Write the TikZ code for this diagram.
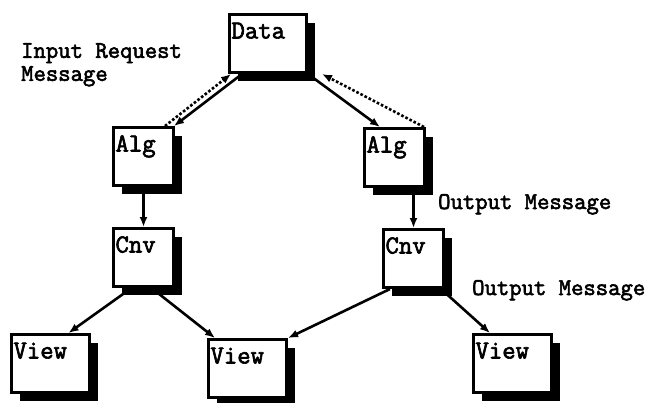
\documentclass[tikz,border=0pt]{standalone}
\usepackage{fontspec}
\setmonofont{Latin Modern Mono}[AutoFakeBold=2.5]
\usetikzlibrary{arrows.meta,shadows}
\begin{document}
\begin{tikzpicture}[x=1pt, y=-1pt, >={Latex[length=10pt,width=8pt]}]
		\useasboundingbox (0,0) rectangle (650,402);
		\begin{scope}[every node/.style={draw, fill=white, line width=3pt, anchor=north west, inner xsep=2pt, inner ysep=3pt, text height=21pt, text depth=31pt, align=left, font=\ttfamily\bfseries\fontsize{26}{26}\selectfont, drop shadow={shadow xshift=8pt, shadow yshift=-8pt, fill=black, opacity=1}}]
			\node (Data)[text width=73pt] at (228,13) {Data};
			\node (Alg1)[text width=56pt] at (112,126) {Alg};
			\node (Alg2)[text width=56pt] at (363,127) {Alg};
			\node (Cnv1)[text width=56pt] at (112,227) {Cnv};
			\node (Cnv2)[text width=56pt] at (382,228) {Cnv};
			\node (View1)[text width=74pt] at (10,333) {View};
			\node (View2)[text width=74pt] at (207,338) {View};
			\node (View3)[text width=74pt] at (472,333) {View};
		\end{scope}
		\begin{scope}[every node/.style={font=\ttfamily\bfseries\fontsize{24}{23}\selectfont, inner sep=0pt, align=left}]
			\node (InMsg)[anchor=north west] at (21,43) {Input Request\\Message};
			\node (OutMsg1)[anchor=base west] at (438,209) {Output Message};
			\node (OutMsg2)[anchor=base west] at (472,295) {Output Message};
		\end{scope}
		\begin{scope}[every edge/.style={draw, line width=2.6pt}]
			\path [->] ([xshift=14pt]Data.south west) edge ([xshift=-1pt]Alg1.north east);
			\path [->] ([xshift=-10pt]Alg1.north east) edge[dotted] ([xshift=3pt]Data.south west);
			\path [->] (Data.south east) edge ([xshift=17pt]Alg2.north west);
			\path [->] ([xshift=-2pt]Alg2.north east) edge[dotted] ([xshift=14pt]Data.south east);
			\path [->] (Alg1.south) edge (Cnv1.north);
			\path [->] (Alg2.south -| Cnv2.north) edge (Cnv2.north);
			\path [->] ([xshift=-12pt]Cnv1.south) edge ([xshift=18pt]View1.north);
			\path [->] ([xshift=8pt]Cnv1.south) edge ([xshift=8pt]View2.north west);
			\path [->] ([xshift=8pt]Cnv2.south west) edge (View2.north east);
			\path [->] ([xshift=-4pt]Cnv2.south east) edge ([xshift=18pt]View3.north west);
		\end{scope}
	\end{tikzpicture}
\end{document}
